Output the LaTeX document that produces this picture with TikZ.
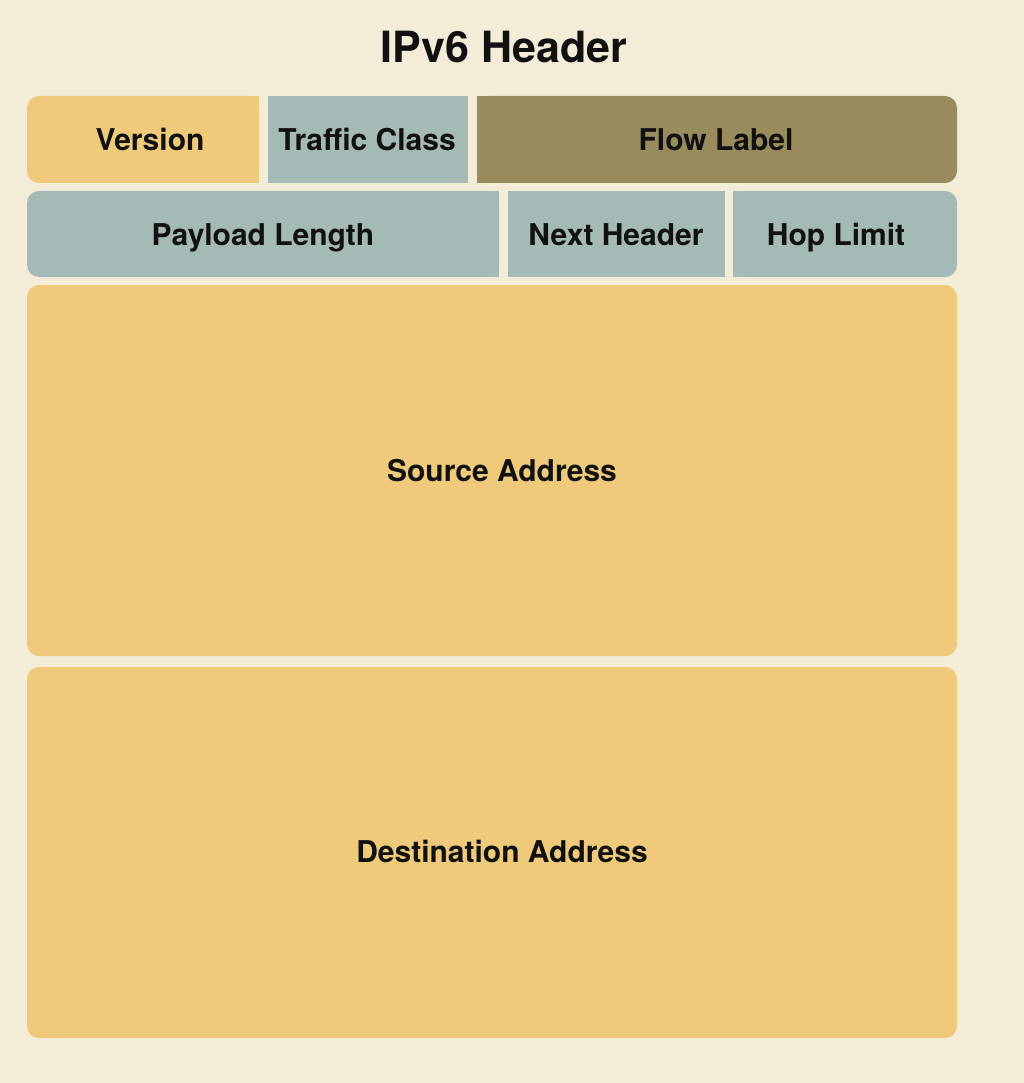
\documentclass[tikz,border=0pt]{standalone}
\usepackage{fontspec}
\setmainfont{TeX Gyre Heros}
\definecolor{paper}{HTML}{F3EDD8}
\definecolor{sand}{HTML}{EECA7A}
\definecolor{slate}{HTML}{A4BAB6}
\definecolor{olive}{HTML}{988C5C}
\definecolor{ink}{HTML}{111111}
\begin{document}
\begin{tikzpicture}[x=1pt,y=1pt,
  lbl/.style={anchor=base, inner sep=0, text=ink, font=\bfseries\fontsize{30}{34}\selectfont},
  ttl/.style={anchor=base, inner sep=0, text=ink, font=\bfseries\fontsize{43}{48}\selectfont},
  rnd/.style={rounded corners=12}]
% canvas
\fill[paper] (0,0) rectangle (1024,-1083);
\useasboundingbox (0,0) rectangle (1024,-1083);

% title
\node[ttl] (title) at (504,-63) {IPv6 Header};

% first word: version, traffic class, flow label
\fill[sand,rnd] (27,-96) rectangle (259,-183);
\fill[sand] (150,-96) rectangle (259,-183);
\node[lbl] (ver) at (150,-151) {Version};

\fill[slate] (268,-96) rectangle (468,-183);
\node[lbl] (tc) at (367,-151) {Traffic Class};

\fill[olive,rnd] (477,-96) rectangle (957,-183);
\fill[olive] (477,-96) rectangle (700,-183);
\node[lbl] (fl) at (716,-151) {Flow Label};

% second word: payload length, next header, hop limit
\fill[slate,rnd] (27,-191) rectangle (499,-277);
\fill[slate] (260,-191) rectangle (499,-277);
\node[lbl] (pl) at (263,-245) {Payload Length};

\fill[slate] (508,-191) rectangle (725,-277);
\node[lbl] (nh) at (616,-245) {Next Header};

\fill[slate,rnd] (733,-191) rectangle (957,-277);
\fill[slate] (733,-191) rectangle (850,-277);
\node[lbl] (hl) at (836,-245) {Hop Limit};

% addresses
\fill[sand,rnd] (27,-285) rectangle (957,-656);
\node[lbl] (src) at (502,-481) {Source Address};

\fill[sand,rnd] (27,-667) rectangle (957,-1038);
\node[lbl] (dst) at (502,-862) {Destination Address};
\end{tikzpicture}
\end{document}
